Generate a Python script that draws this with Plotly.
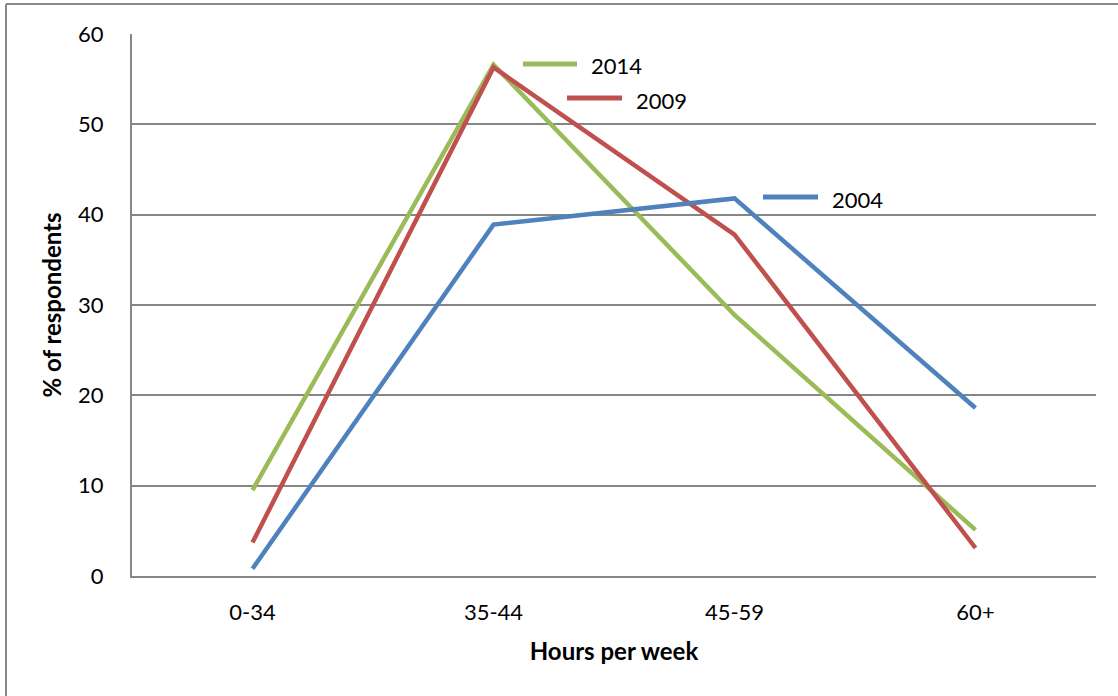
import plotly.graph_objects as go

categories = ["0-34", "35-44", "45-59", "60+"]
y2014 = [9.5, 56.6, 28.9, 5.1]
y2009 = [3.7, 56.3, 37.8, 3.1]
y2004 = [0.8, 38.9, 41.8, 18.6]
series_names = ["2014", "2009", "2004"]
colors = ["#9BBB59", "#C0504D", "#4F81BD"]

W, H = 1118, 696
L, R, T, B = 132, 22, 34, 120
pw, ph = W - L - R, H - T - B

def px(x):
    return (x - L) / pw

def py(y):
    return (H - B - y) / ph

fig = go.Figure()
for name, vals, col in zip(series_names, [y2014, y2009, y2004], colors):
    fig.add_trace(go.Scatter(x=categories, y=vals, mode="lines", name=name,
                             line=dict(color=col, width=4.5), showlegend=False))

# inline legend keys (series labels placed in the plot)
keys = [((523, 577, 64), (589, 66)),
        ((567, 622, 98), (634, 100)),
        ((763, 818, 197), (830, 199))]
shapes = []
annotations = []
for name, col, ((x0, x1, yl), (xt, yt)) in zip(series_names, colors, keys):
    shapes.append(dict(type="line", xref="paper", yref="paper",
                       x0=px(x0), x1=px(x1), y0=py(yl), y1=py(yl),
                       line=dict(color=col, width=5)))
    annotations.append(dict(text=name, xref="paper", yref="paper",
                            x=px(xt), y=py(yt), xanchor="left", yanchor="middle",
                            showarrow=False, font=dict(size=22, color="black")))

# outer chart border (top and left visible)
shapes.append(dict(type="line", xref="paper", yref="paper",
                   x0=px(6), x1=px(1130), y0=py(4), y1=py(4),
                   line=dict(color="#888888", width=2)))
shapes.append(dict(type="line", xref="paper", yref="paper",
                   x0=px(6), x1=px(6), y0=py(4), y1=py(710),
                   line=dict(color="#888888", width=2)))

fig.update_layout(
    width=W, height=H,
    margin=dict(l=L, r=R, t=T, b=B, pad=0),
    paper_bgcolor="white", plot_bgcolor="white",
    font=dict(family="Lato", size=22, color="black"),
    shapes=shapes, annotations=annotations,
    xaxis=dict(type="category", range=[-0.5, 3.5], showgrid=False,
               showline=True, linecolor="#868686", linewidth=2,
               ticks="outside", ticklen=16, tickcolor="rgba(0,0,0,0)",
               tickfont=dict(size=22),
               title=dict(text="<b>Hours per week</b>", font=dict(size=24), standoff=19)),
    yaxis=dict(range=[0, 60], dtick=10, showgrid=True, gridcolor="#868686", gridwidth=1.5,
               showline=True, linecolor="#868686", linewidth=2, zeroline=False,
               ticks="outside", ticklen=22, tickcolor="rgba(0,0,0,0)",
               tickfont=dict(size=22),
               title=dict(text="<b>% of respondents</b>", font=dict(size=24), standoff=10)),
)

fig.write_html("out.html", config={"displayModeBar": False},
               post_script="document.body.style.margin='0';document.body.style.padding='0';")
